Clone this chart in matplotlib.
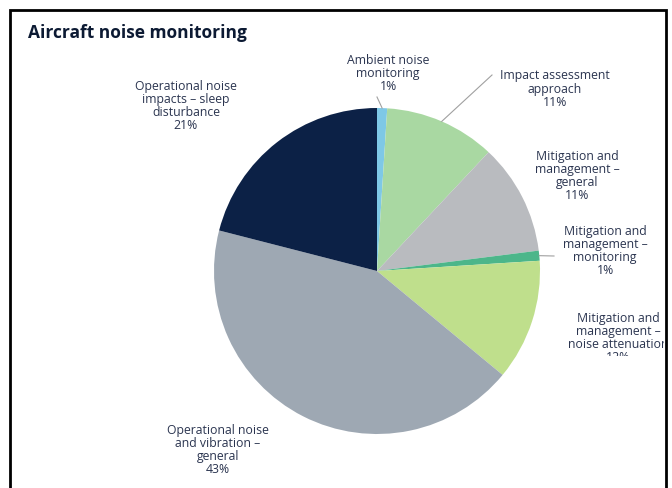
import matplotlib.pyplot as plt
import matplotlib.patches as patches
from matplotlib.transforms import Bbox
import numpy as np

plt.rcParams['font.family'] = ['Open Sans', 'DejaVu Sans']

# slices in clockwise order starting at 12 o'clock
categories = [
    'Ambient noise\nmonitoring',
    'Impact assessment\napproach',
    'Mitigation and\nmanagement –\ngeneral',
    'Mitigation and\nmanagement –\nmonitoring',
    'Mitigation and\nmanagement –\nnoise attenuation',
    'Operational noise\nand vibration –\ngeneral',
    'Operational noise\nimpacts – sleep\ndisturbance',
]
shares = [1, 11, 11, 1, 12, 43, 21]
colors = ['#7ec8e6', '#a9d8a2', '#b9bbbf', '#4cb68a', '#bfdf8c', '#9ea8b3', '#0c2146']

W, H = 672, 489
fig = plt.figure(figsize=(W / 100, H / 100), dpi=100)

def px(x, y):
    return x / W, 1 - y / H

# pie centre and radius in pixels
cx, cy, r = 377, 272, 163
ax = fig.add_axes([(cx - r) / W, (H - cy - r) / H, 2 * r / W, 2 * r / H])
wedges, _ = ax.pie(shares, colors=colors, startangle=90, counterclock=False,
                   wedgeprops=dict(linewidth=0))
ax.set_xlim(-1, 1)
ax.set_ylim(-1, 1)

# label anchor positions (pixels) for each slice
label_pos = [(388, 74), (555, 89), (577, 176), (605, 251), (618, 338), (218, 450), (186, 106)]
leader_end = [(377, 98), (492, 76), None, (554, 257), None, None, None]

text_color = '#2b3550'
for i, (name, val) in enumerate(zip(categories, shares)):
    x, y = label_pos[i]
    t = fig.text(*px(x, y), f'{name}\n{val}%', ha='center', va='center',
                 fontsize=8.8, color=text_color, linespacing=1.0)
    if i == 4:
        # this label runs past the frame and gets cut off
        t.set_clip_box(Bbox.from_extents(0, H - 357, 664, H))
        t.set_clip_on(True)
    if leader_end[i] is not None:
        w = wedges[i]
        mid = np.deg2rad((w.theta1 + w.theta2) / 2)
        x0, y0 = cx + r * np.cos(mid), cy - r * np.sin(mid)
        ex, ey = leader_end[i]
        fig.add_artist(plt.Line2D([x0 / W, ex / W], [1 - y0 / H, 1 - ey / H],
                                  color='#a0a0a0', linewidth=0.8))

fig.text(*px(28, 33), 'Aircraft noise monitoring', fontsize=12.5, fontweight='bold',
         color='#0c1a33', ha='left', va='center')

# black frame around the panel
frame = patches.Rectangle(px(10, 520), (666 - 10) / W, (520 - 11) / H,
                          transform=fig.transFigure, fill=False,
                          edgecolor='black', linewidth=2)
fig.add_artist(frame)

fig.savefig('out.png', dpi=100)
